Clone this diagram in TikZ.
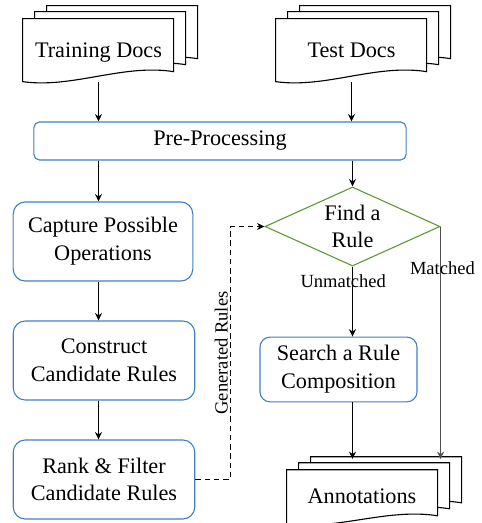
\documentclass[tikz,border=0pt]{standalone}
\usepackage{fontspec}
\setmainfont{Liberation Serif}
\usetikzlibrary{arrows.meta,shapes.geometric,backgrounds}
\definecolor{procblue}{RGB}{63,127,196}
\definecolor{findgreen}{RGB}{96,153,52}
\definecolor{matchgray}{RGB}{80,80,80}
\tikzset{
  every node/.style={font=\fontsize{12}{15}\selectfont},
  docnode/.style={minimum width=81.5pt, inner sep=0pt, text depth=0.5pt},
  sheet/.style={draw=black, fill=white, line width=0.6pt},
  proc/.style={draw=procblue, line width=0.6pt, align=center, inner sep=0pt},
  findrule/.style={diamond, draw=findgreen, line width=0.6pt, align=center,
    inner sep=0pt, aspect=2.2, minimum width=94.5pt, minimum height=42.7pt},
  arr/.style={-{Stealth[length=4pt,width=3.8pt]}, line width=0.6pt},
  lbl/.style={font=\fontsize{10}{12}\selectfont, inner sep=1pt}
}
% stack of three sheets behind a doc node: #1 node, #2 left height, #3 right height
\newcommand{\docstack}[3]{%
  \begin{scope}[on background layer, shift={(#1.north west)}]
    \foreach \dx/\dy in {24/-13, 12/-7, 0/0}
      \draw[sheet] (\dx,\dy) -- ++(151,0) -- ++(0,#3)
        .. controls +(-51,-8) and +(50,7) .. (\dx,\dy+#2) -- cycle;
  \end{scope}}
\begin{document}
\begin{tikzpicture}[x=0.54pt, y=-0.54pt]
\useasboundingbox (0,0) rectangle (482,523);

% inputs
\node[docnode, minimum height=34pt] (train) at (98.5,50.5) {Training Docs};
\node[docnode, minimum height=34pt] (test) at (351.5,50.5) {Test Docs};
\docstack{train}{63}{53}
\docstack{test}{63}{53}

\node[proc, rounded corners=3pt, minimum width=201pt, minimum height=20.5pt] (pre) at (220,141) {Pre-Processing};

% training side
\node[proc, rounded corners=6.5pt, minimum width=97pt, minimum height=42.7pt] (capture) at (103,241.5) {Capture Possible\\Operations};
\node[proc, rounded corners=6.5pt, minimum width=98pt, minimum height=42.7pt] (construct) at (104,360.5) {Construct\\Candidate Rules};
\node[proc, rounded corners=6.5pt, minimum width=98pt, minimum height=42.7pt] (rank) at (104,479.5) {Rank \& Filter\\Candidate Rules};

% test side
\node[findrule] (find) at (352.5,226.5) {Find a\\Rule};
\node[proc, rounded corners=5.5pt, minimum width=84.8pt, minimum height=35pt] (search) at (338.5,369.5) {Search a Rule\\Composition};
\node[docnode, minimum width=81pt, minimum height=29pt] (annot) at (362,497) {Annotations};
\docstack{annot}{54}{46}
\coordinate (annottop) at (0,459);

% connectors
\draw[arr] (train.south) -- (train.south |- pre.north);
\draw[arr] (test.south) -- (test.south |- pre.north);
\draw[arr] (train.south |- pre.south) -- (train.south |- capture.north);
\draw[arr] (train.south |- capture.south) -- (train.south |- construct.north);
\draw[arr] (train.south |- construct.south) -- (train.south |- rank.north);
\draw[arr] (find.north |- pre.south) -- (find.north);
\draw[arr] (find.south) -- node[lbl, pos=0.21, xshift=-5pt] {Unmatched} (find.south |- search.north);
\draw[arr] (find.south |- search.south) -- (find.south |- annottop);
\draw[arr, draw=matchgray, line width=0.8pt] (find.east) -- node[lbl, pos=0.18, xshift=1pt] {Matched} (find.east |- annottop);
\draw[arr, dash pattern=on 3pt off 2pt] (rank.east) -- ++(35,0) |- node[lbl, pos=0.25, rotate=90, above] {Generated Rules} (find.west);

\end{tikzpicture}
\end{document}
